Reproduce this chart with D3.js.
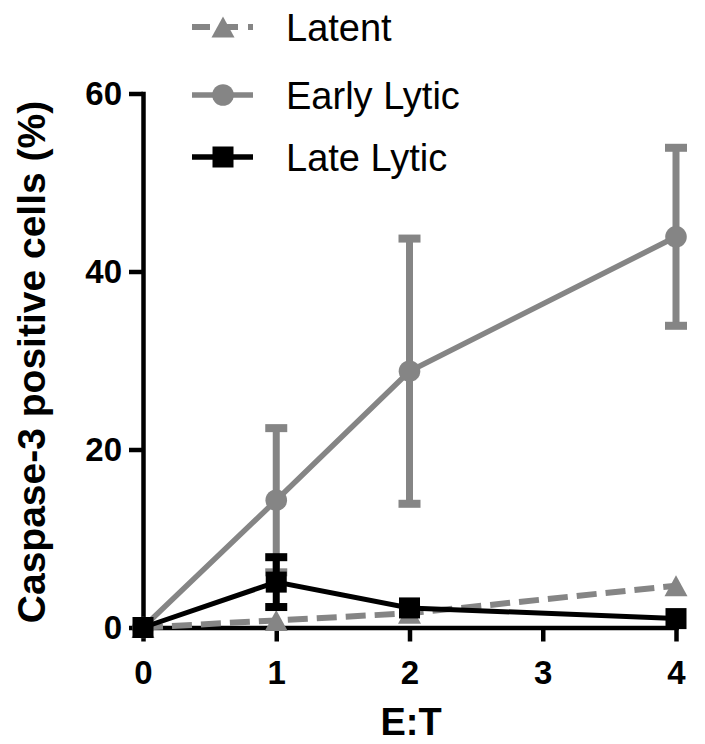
<!DOCTYPE html>
<html><head><meta charset="utf-8">
<script src="https://cdn.jsdelivr.net/npm/d3@7"></script>
<style>body{margin:0;background:#fff}</style>
</head><body>
<svg id="c" width="705" height="744"></svg>
<script>
const xValues = [0, 1, 2, 4];
const xTicks = [0, 1, 2, 3, 4];
const yTicks = [0, 20, 40, 60];
const latent = [0, 0.8, 1.6, 4.7];
const earlyLytic = [0, 14.3, 28.8, 43.9];
const earlyLyticErr = [0, 8.1, 14.9, 10.0];
const lateLytic = [0, 5.1, 2.2, 1.0];
const lateLyticErr = [0, 2.8, 0, 0];
const seriesNames = ["Latent", "Early Lytic", "Late Lytic"];
const xTitle = "E:T";
const yTitle = "Caspase-3 positive cells (%)";

const GRAY = "#858585";
const FONT = "Arial, 'Liberation Sans', Helvetica, sans-serif";

const svg = d3.select("#c");
const x = d3.scaleLinear().domain([0, 4]).range([143, 676]);
const y = d3.scaleLinear().domain([0, 60]).range([627.5, 93.5]);

// axes
const gy = svg.append("g").attr("transform", "translate(143,0)")
  .call(d3.axisLeft(y).tickValues(yTicks).tickFormat(d3.format("d")).tickSize(14).tickSizeOuter(0).tickPadding(7));
const gx = svg.append("g").attr("transform", "translate(0,627.5)")
  .call(d3.axisBottom(x).tickValues(xTicks).tickFormat(d3.format("d")).tickSize(14).tickSizeOuter(0).tickPadding(19));
[gy, gx].forEach(g => {
  g.select(".domain").attr("stroke", "#000").attr("stroke-width", 4.5).attr("stroke-linecap", "square");
  g.selectAll(".tick line").attr("stroke", "#000").attr("stroke-width", 4.5);
  g.selectAll(".tick text").attr("fill", "#000").attr("font-family", FONT)
    .attr("font-size", 33).attr("font-weight", "bold");
});

// titles
svg.append("text").attr("x", 411).attr("y", 735).attr("text-anchor", "middle")
  .attr("font-family", FONT).attr("font-size", 38).attr("font-weight", "bold").text(xTitle);
svg.append("text").attr("transform", "translate(45,362) rotate(-90)").attr("text-anchor", "middle")
  .attr("font-family", FONT).attr("font-size", 39).attr("font-weight", "bold").text(yTitle);

const line = d3.line().x(d => x(d[0])).y(d => y(d[1]));
const tri = (cx, cy) => `M${cx},${cy - 10.5}L${cx + 11.5},${cy + 10.5}L${cx - 11.5},${cy + 10.5}Z`;

// Latent
const latPts = xValues.map((v, i) => [v, latent[i]]);
svg.append("path").attr("d", line(latPts)).attr("fill", "none").attr("stroke", GRAY)
  .attr("stroke-width", 6).attr("stroke-dasharray", "20,9");
svg.selectAll(".lat").data(latPts).enter().append("path")
  .attr("d", d => tri(x(d[0]), y(d[1]))).attr("fill", GRAY);

// error bars helper
function errBars(vals, errs, color) {
  const g = svg.append("g");
  xValues.forEach((v, i) => {
    if (!errs[i]) return;
    const cx = x(v), top = y(vals[i] + errs[i]), bot = y(vals[i] - errs[i]);
    g.append("line").attr("x1", cx).attr("x2", cx).attr("y1", top).attr("y2", bot)
      .attr("stroke", color).attr("stroke-width", 7);
    [top, bot].forEach(yy => g.append("rect").attr("x", cx - 11).attr("y", yy - 4)
      .attr("width", 22).attr("height", 8).attr("fill", color));
  });
}

// Early Lytic
const earPts = xValues.map((v, i) => [v, earlyLytic[i]]);
errBars(earlyLytic, earlyLyticErr, GRAY);
svg.append("path").attr("d", line(earPts)).attr("fill", "none").attr("stroke", GRAY).attr("stroke-width", 5.5);
svg.selectAll(".ear").data(earPts).enter().append("circle")
  .attr("cx", d => x(d[0])).attr("cy", d => y(d[1])).attr("r", 10.8).attr("fill", GRAY);

// Late Lytic
const latePts = xValues.map((v, i) => [v, lateLytic[i]]);
errBars(lateLytic, lateLyticErr, "#000");
svg.append("path").attr("d", line(latePts)).attr("fill", "none").attr("stroke", "#000").attr("stroke-width", 5);
svg.selectAll(".late").data(latePts).enter().append("rect")
  .attr("x", d => x(d[0]) - 10.5).attr("y", d => y(d[1]) - 10.5).attr("width", 21).attr("height", 21).attr("fill", "#000");

// legend
const legRows = [27, 95, 157];
const lg = svg.append("g");
seriesNames.forEach((name, i) => {
  const ry = legRows[i];
  const l = lg.append("line").attr("x1", 192).attr("x2", 253).attr("y1", ry).attr("y2", ry)
    .attr("stroke", i === 2 ? "#000" : GRAY).attr("stroke-width", i === 0 ? 6 : 5.5);
  if (i === 0) { l.attr("stroke-dasharray", "18,10"); lg.append("path").attr("d", tri(223, ry)).attr("fill", GRAY); }
  if (i === 1) lg.append("circle").attr("cx", 223).attr("cy", ry).attr("r", 10.8).attr("fill", GRAY);
  if (i === 2) lg.append("rect").attr("x", 212.5).attr("y", ry - 10.5).attr("width", 21).attr("height", 21).attr("fill", "#000");
  lg.append("text").attr("x", 286).attr("y", ry + 13.5).attr("font-family", FONT)
    .attr("font-size", 38).attr("fill", "#000").text(name);
});
</script>
</body></html>
